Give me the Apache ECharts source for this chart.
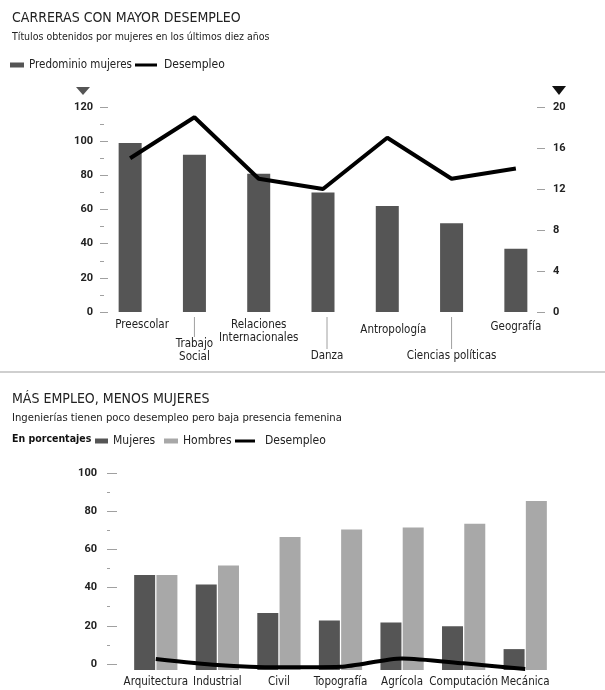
<!DOCTYPE html>
<html>
<head>
<meta charset="utf-8">
<script src="https://cdn.jsdelivr.net/npm/echarts@6/dist/echarts.min.js"></script>
<style>
html, body { margin: 0; padding: 0; background: #fff; }
#chart { width: 605px; height: 690px; }
</style>
</head>
<body>
<div id="chart"></div>
<script>
// Carreras con mayor desempleo
var carreras = ['Preescolar', 'Trabajo Social', 'Relaciones Internacionales', 'Danza', 'Antropología', 'Ciencias políticas', 'Geografía'];
var predominioMujeres = [99, 92, 81, 70, 62, 52, 37];
var desempleoCarreras = [15, 19, 13, 12, 17, 13, 14];
var ticksMujeres = [0, 20, 40, 60, 80, 100, 120];
var ticksDesempleo = [0, 4, 8, 12, 16, 20];

// Más empleo, menos mujeres
var ingenierias = ['Arquitectura', 'Industrial', 'Civil', 'Topografía', 'Agrícola', 'Computación', 'Mecánica'];
var mujeres = [50, 45, 30, 26, 25, 23, 11];
var hombres = [50, 55, 70, 74, 75, 77, 89];
var desempleoIng = [5.8, 2.6, 1.4, 1.7, 6.1, 3.5, 0.5];
var ticksPorcentaje = [0, 20, 40, 60, 80, 100];

var FONT = "'Liberation Sans Narrow', 'DejaVu Sans Condensed', 'Roboto Condensed', Roboto, sans-serif";
var NUM_FONT = 'Roboto, sans-serif';
var DARK = '#555555', LIGHT = '#a8a8a8', INK = '#222222', TICK = '#a0a0a0';

// escalonado de las etiquetas de carreras (px hacia abajo / hacia la derecha)
var labelPad = [0, 19, 0, 31, 5, 31, 2];
var labelShift = [12, 0, 0, 4, 6, 0, 0];
var labelWrap = [0, 1, 1, 0, 0, 0, 0];

function lastOf(a) { return a[a.length - 1]; }

/**
 * Etiqueta de carrera + línea guía, colocadas con la escala del eje
 */
function renderCarrera(params, api) {
	var idx = api.value(0);
	var p = api.coord([idx, 0]);
	var pad = labelPad[idx];
	var x = p[0] + labelShift[idx];
	var txt = labelWrap[idx] ? carreras[idx].replace(' ', '\n') : carreras[idx];
	var children = [{
		type: 'text', x: x, y: p[1] + 7 + pad,
		style: {
			text: txt, fontFamily: FONT, fontSize: 11.5, lineHeight: 13,
			fill: INK, align: 'center', verticalAlign: 'top'
		}
	}];
	if (pad > 10) {
		children.push({
			type: 'line',
			shape: { x1: x, y1: p[1] + 5, x2: x, y2: p[1] + pad + 6 },
			style: { stroke: TICK, lineWidth: 1 }
		});
	}
	return { type: 'group', children: children };
}

function valueAxis(ticks, opts) {
	var base = {
		type: 'value',
		min: ticks[0],
		max: lastOf(ticks),
		interval: ticks[1] - ticks[0],
		axisLine: { show: false },
		splitLine: { show: false },
		axisTick: { show: true, inside: true, length: 8, lineStyle: { color: TICK, width: 1 } },
		axisLabel: { fontFamily: NUM_FONT, fontWeight: 'bold', fontSize: 11, color: INK, margin: 7 }
	};
	return Object.assign(base, opts);
}

var chart = echarts.init(document.getElementById('chart'));
chart.setOption({
	animation: false,
	backgroundColor: '#fff',
	title: [{
		text: 'CARRERAS CON MAYOR DESEMPLEO',
		subtext: 'Títulos obtenidos por mujeres en los últimos diez años',
		left: 12, top: 11, padding: 0, itemGap: 7,
		textStyle: { fontFamily: FONT, fontSize: 14, fontWeight: 'normal', color: INK },
		subtextStyle: { fontFamily: FONT, fontSize: 10.5, color: INK }
	}, {
		text: 'MÁS EMPLEO, MENOS MUJERES',
		subtext: 'Ingenierías tienen poco desempleo pero baja presencia femenina',
		left: 12, top: 392, padding: 0, itemGap: 7,
		textStyle: { fontFamily: FONT, fontSize: 14, fontWeight: 'normal', color: INK },
		subtextStyle: { fontFamily: FONT, fontSize: 11.2, color: INK }
	}],
	legend: [{
		data: ['Predominio mujeres'], left: 10, top: 59, padding: 0,
		icon: 'rect', itemWidth: 14, itemHeight: 5,
		textStyle: { fontFamily: FONT, fontSize: 11.5, color: INK }
	}, {
		data: [{ name: 'Desempleo', icon: 'rect' }], left: 135, top: 59, padding: 0,
		itemWidth: 22, itemHeight: 3,
		textStyle: { fontFamily: FONT, fontSize: 12, color: INK, padding: [0, 0, 0, 2] }
	}, {
		data: ['Mujeres'], left: 95, top: 435, padding: 0,
		icon: 'rect', itemWidth: 13, itemHeight: 5,
		textStyle: { fontFamily: FONT, fontSize: 12, color: INK }
	}, {
		data: ['Hombres'], left: 164, top: 435, padding: 0,
		icon: 'rect', itemWidth: 14, itemHeight: 5,
		textStyle: { fontFamily: FONT, fontSize: 12, color: INK }
	}, {
		data: [{ name: 'Desempleo', icon: 'rect' }], left: 235, top: 435, padding: 0,
		itemWidth: 20, itemHeight: 3,
		textStyle: { fontFamily: FONT, fontSize: 12, color: INK, padding: [0, 0, 0, 5] }
	}],
	graphic: [{
		type: 'polygon', shape: { points: [[76, 87], [90, 87], [83, 95]] }, style: { fill: DARK }
	}, {
		type: 'polygon', shape: { points: [[552, 86], [566, 86], [559, 95]] }, style: { fill: '#111' }
	}, {
		type: 'line', shape: { x1: 0, y1: 372, x2: 605, y2: 372 }, style: { stroke: '#cfcfcf', lineWidth: 2 }
	}, {
		type: 'text', left: 12, top: 434,
		style: { text: 'En porcentajes', fontFamily: FONT, fontSize: 10.5, fontWeight: 'bold', fill: '#111' }
	}],
	grid: [
		{ left: 98, right: 57, top: 107, bottom: 378 },
		{ left: 125, right: 49, top: 480, bottom: 20 },
		{ left: 107, width: 8, top: 473, bottom: 26 }
	],
	xAxis: [{
		type: 'category', gridIndex: 0, data: carreras,
		axisLine: { show: false }, axisTick: { show: false }, axisLabel: { show: false }
	}, {
		type: 'category', gridIndex: 1, data: ingenierias,
		axisLine: { show: false }, axisTick: { show: false },
		axisLabel: { interval: 0, margin: 6, fontFamily: FONT, fontSize: 11.5, color: INK }
	}, {
		type: 'value', gridIndex: 2, show: false, min: 0, max: 1
	}],
	yAxis: [
		valueAxis(ticksMujeres, {
			gridIndex: 0, position: 'left', offset: -2,
			minorTick: { show: true, splitNumber: 2, length: 4, lineStyle: { color: TICK } }
		}),
		valueAxis(ticksDesempleo, {
			gridIndex: 0, position: 'right', offset: -3,
			axisLabel: { fontFamily: NUM_FONT, fontWeight: 'bold', fontSize: 11, color: INK, margin: 8 }
		}),
		{ type: 'value', gridIndex: 1, show: false, min: ticksPorcentaje[0], max: lastOf(ticksPorcentaje) },
		valueAxis(ticksPorcentaje, {
			gridIndex: 2, position: 'left',
			axisTick: { show: true, inside: true, length: 10, lineStyle: { color: TICK, width: 1 } },
			minorTick: { show: true, splitNumber: 2, length: 3, lineStyle: { color: TICK } },
			axisLabel: { fontFamily: NUM_FONT, fontWeight: 'bold', fontSize: 11, color: INK, margin: 10 }
		})
	],
	series: [{
		name: 'Predominio mujeres', type: 'bar', xAxisIndex: 0, yAxisIndex: 0,
		barWidth: 23, itemStyle: { color: DARK }, data: predominioMujeres
	}, {
		name: 'Desempleo', type: 'line', xAxisIndex: 0, yAxisIndex: 1,
		symbol: 'none', lineStyle: { color: '#000', width: 4 }, itemStyle: { color: '#000' },
		data: desempleoCarreras, z: 5
	}, {
		type: 'custom', xAxisIndex: 0, yAxisIndex: 0, clip: false, silent: true,
		renderItem: renderCarrera,
		data: carreras.map(function(c, i) { return [i, 0]; })
	}, {
		name: 'Mujeres', type: 'bar', xAxisIndex: 1, yAxisIndex: 2,
		barWidth: 21, barGap: '6%', itemStyle: { color: DARK }, data: mujeres
	}, {
		name: 'Hombres', type: 'bar', xAxisIndex: 1, yAxisIndex: 2,
		barWidth: 21, barGap: '6%', itemStyle: { color: LIGHT }, data: hombres
	}, {
		name: 'Desempleo', type: 'line', xAxisIndex: 1, yAxisIndex: 2,
		symbol: 'none', smooth: 0.25, lineStyle: { color: '#000', width: 4 }, itemStyle: { color: '#000' },
		data: desempleoIng, z: 5
	}]
});
</script>
</body>
</html>
